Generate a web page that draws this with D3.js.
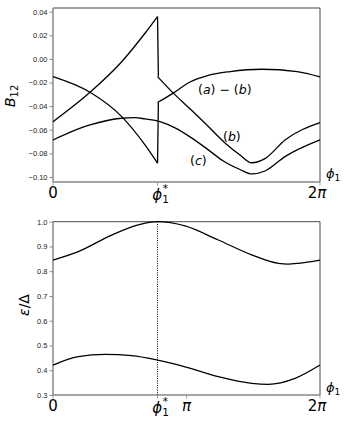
<!DOCTYPE html>
<html lang="en">
<head>
<meta charset="UTF-8">
<title>B12 and energy vs phi1</title>
<script src="https://d3js.org/d3.v7.min.js"></script>
<style>
  body { margin: 0; background: #fff; }
  svg { font-family: "DejaVu Sans", sans-serif; }
</style>
</head>
<body>
<svg width="349" height="427"></svg>
<script>
// phi in radians
const phiStar = 2.46;

// top panel: B12 branches (split at the jump at phi*)
const q1 = [[0,-0.0532],[0.871,-0.0283],[1.617,-0.0024],[2.165,0.0217],[2.46,0.0358]];
const q2 = [[2.46,-0.015],[2.831,-0.029],[3.224,-0.0423],[3.655,-0.0573],[4.048,-0.0712],[4.401,-0.0814],[4.676,-0.088],[4.989,-0.0845],[5.460,-0.0687],[6.283,-0.054]];
const p1 = [[0,-0.0151],[0.871,-0.0283],[1.617,-0.0489],[2.165,-0.0729],[2.46,-0.0884]];
const p2 = [[2.46,-0.037],[2.831,-0.029],[3.224,-0.0196],[3.655,-0.014],[4.165,-0.0108],[4.918,-0.0088],[5.742,-0.0108],[6.283,-0.0153]];
const c1 = [[0,-0.0687],[0.871,-0.056],[1.617,-0.0503],[1.930,-0.0498],[2.165,-0.0509],[2.518,-0.0532],[2.871,-0.0585],[3.224,-0.0661],[3.655,-0.0771],[4.008,-0.0865],[4.401,-0.0937],[4.676,-0.0975],[4.989,-0.095],[5.460,-0.0828],[6.283,-0.0687]];

// bottom panel: energies
const eUp = [[0,0.845],[0.595,0.879],[1.381,0.946],[2.007,0.987],[2.46,1.0],[3.106,0.983],[3.890,0.926],[4.676,0.866],[5.302,0.832],[5.53,0.829],[5.773,0.832],[6.283,0.845]];
const eLo = [[0,0.421],[0.595,0.455],[1.224,0.464],[1.852,0.459],[2.46,0.441],[3.106,0.414],[3.890,0.374],[4.676,0.347],[5.066,0.343],[5.695,0.367],[6.283,0.421]];

const topTicks = [0.04,0.02,0.00,-0.02,-0.04,-0.06,-0.08,-0.10];
const botTicks = [0.3,0.4,0.5,0.6,0.7,0.8,0.9,1.0];

let svg = d3.select('svg');
let xL = 53, xR = 320;
let x = d3.scaleLinear().domain([0, 2*Math.PI]).range([xL, xR]);
let yTop = d3.scaleLinear().domain([-0.1043, 0.0431]).range([182, 8]);
let yBot = d3.scaleLinear().domain([0.3, 1.0]).range([395, 221.7]);

function panel(y, ticks, fmt, xticks) {
    let g = svg.append('g');
    let y0 = y.range()[0], y1 = y.range()[1];
    // y axis
    let ya = g.append('g').attr('transform', 'translate(' + xL + ',0)')
        .call(d3.axisLeft(y).tickValues(ticks).tickSize(3.5).tickPadding(2).tickFormat(fmt));
    ya.select('.domain').remove();
    ya.selectAll('line').attr('stroke', '#888');
    ya.selectAll('text').attr('font-size', 7.5).attr('fill', '#222');
    // x ticks
    xticks.forEach(function (t) {
        g.append('line').attr('x1', x(t)).attr('x2', x(t)).attr('y1', y0).attr('y2', y0 + 3.5)
            .attr('stroke', '#888').attr('stroke-width', 0.8);
    });
    // frame
    g.append('line').attr('x1', xL).attr('x2', xR).attr('y1', y1).attr('y2', y1).attr('stroke', '#333').attr('stroke-width', 0.9);
    g.append('line').attr('x1', xR).attr('x2', xR).attr('y1', y1).attr('y2', y0).attr('stroke', '#333').attr('stroke-width', 0.9);
    g.append('line').attr('x1', xL).attr('x2', xL).attr('y1', y1).attr('y2', y0).attr('stroke', '#888').attr('stroke-width', 1.5);
    g.append('line').attr('x1', xL).attr('x2', xR).attr('y1', y0).attr('y2', y0).attr('stroke', '#888').attr('stroke-width', 1.5);
    return g;
}

function fmtTop(d) { return d3.format('.2f')(d).replace('-', '\u2212'); }
function fmtBot(d) { return d3.format('.1f')(d); }

panel(yTop, topTicks, fmtTop, [0, phiStar, 2*Math.PI]);
panel(yBot, botTicks, fmtBot, [0, phiStar, Math.PI, 2*Math.PI]);

// curves
function draw(data, y) {
    let line = d3.line().x(function (d) { return x(d[0]); }).y(function (d) { return y(d[1]); })
        .curve(d3.curveMonotoneX);
    svg.append('path').attr('d', line(data)).attr('fill', 'none')
        .attr('stroke', '#000').attr('stroke-width', 1.3);
}
draw(q1, yTop); draw(p1, yTop); draw(q2, yTop); draw(p2, yTop); draw(c1, yTop);
// jumps at phi*
svg.append('path').attr('d', d3.line()([[x(phiStar), yTop(q1[q1.length-1][1])], [x(2.48), yTop(q2[0][1])]]))
    .attr('stroke', '#000').attr('stroke-width', 1.3).attr('fill', 'none');
svg.append('path').attr('d', d3.line()([[x(phiStar), yTop(p1[p1.length-1][1])], [x(2.48), yTop(p2[0][1])]]))
    .attr('stroke', '#000').attr('stroke-width', 1.3).attr('fill', 'none');

draw(eUp, yBot); draw(eLo, yBot);
svg.append('line').attr('x1', x(phiStar)).attr('x2', x(phiStar)).attr('y1', yBot(1.0)).attr('y2', yBot(0.3))
    .attr('stroke', '#000').attr('stroke-width', 1).attr('stroke-dasharray', '1,1.3');

// x tick labels
function phiStarLabel(cx, base) {
    let t = svg.append('text').attr('x', cx).attr('y', base).attr('text-anchor', 'middle').attr('font-size', 15);
    t.append('tspan').attr('font-style', 'italic').text('\u03d5');
    t.append('tspan').attr('font-size', 10.5).attr('dy', 3).text('1');
    t.append('tspan').attr('font-size', 10.5).attr('dx', -6).attr('dy', -11).text('*');
}
function plain(txt, cx, base, size, anchor) {
    svg.append('text').attr('x', cx).attr('y', base).attr('font-size', size)
        .attr('text-anchor', anchor || 'middle').text(txt);
}
function twoPi(cx, base) {
    let t = svg.append('text').attr('x', cx).attr('y', base).attr('text-anchor', 'middle').attr('font-size', 15);
    t.append('tspan').text('2');
    t.append('tspan').attr('font-style', 'italic').text('\u03c0');
}
plain('0', x(0), 198, 15);
phiStarLabel(x(phiStar) + 3, 200);
twoPi(x(2*Math.PI) - 3, 198);

plain('0', x(0), 411, 15);
phiStarLabel(x(phiStar) + 3, 413);
svg.append('text').attr('x', x(Math.PI)).attr('y', 411).attr('text-anchor', 'middle')
    .attr('font-size', 15).attr('font-style', 'italic').text('\u03c0');
twoPi(x(2*Math.PI) - 3, 411);

// phi1 axis labels at right
function phiAxis(base) {
    let t = svg.append('text').attr('x', 326).attr('y', base).attr('font-size', 13);
    t.append('tspan').attr('font-style', 'italic').text('\u03d5');
    t.append('tspan').attr('font-size', 9).attr('dy', 2.5).text('1');
}
phiAxis(178);
phiAxis(392);

// y labels
let by = svg.append('text').attr('transform', 'translate(15,96) rotate(-90)')
    .attr('text-anchor', 'middle').attr('font-size', 14.5);
by.append('tspan').attr('font-style', 'italic').text('B');
by.append('tspan').attr('font-size', 10).attr('dy', 3).text('12');

let ey = svg.append('text').attr('transform', 'translate(29,305) rotate(-90)')
    .attr('text-anchor', 'middle').attr('font-size', 14);
ey.append('tspan').attr('font-style', 'italic').text('\u03b5');
ey.append('tspan').text('/\u0394');

// annotations
function annot(parts, px, base) {
    let t = svg.append('text').attr('x', px).attr('y', base).attr('font-size', 12.5);
    parts.forEach(function (p) {
        t.append('tspan').attr('font-style', p[1] ? 'italic' : 'normal').text(p[0]);
    });
}
annot([['(', 0], ['a', 1], [') \u2212 (', 0], ['b', 1], [')', 0]], 198, 94);
annot([['(', 0], ['b', 1], [')', 0]], 223, 141);
annot([['(', 0], ['c', 1], [')', 0]], 190, 165);
</script>
</body>
</html>
